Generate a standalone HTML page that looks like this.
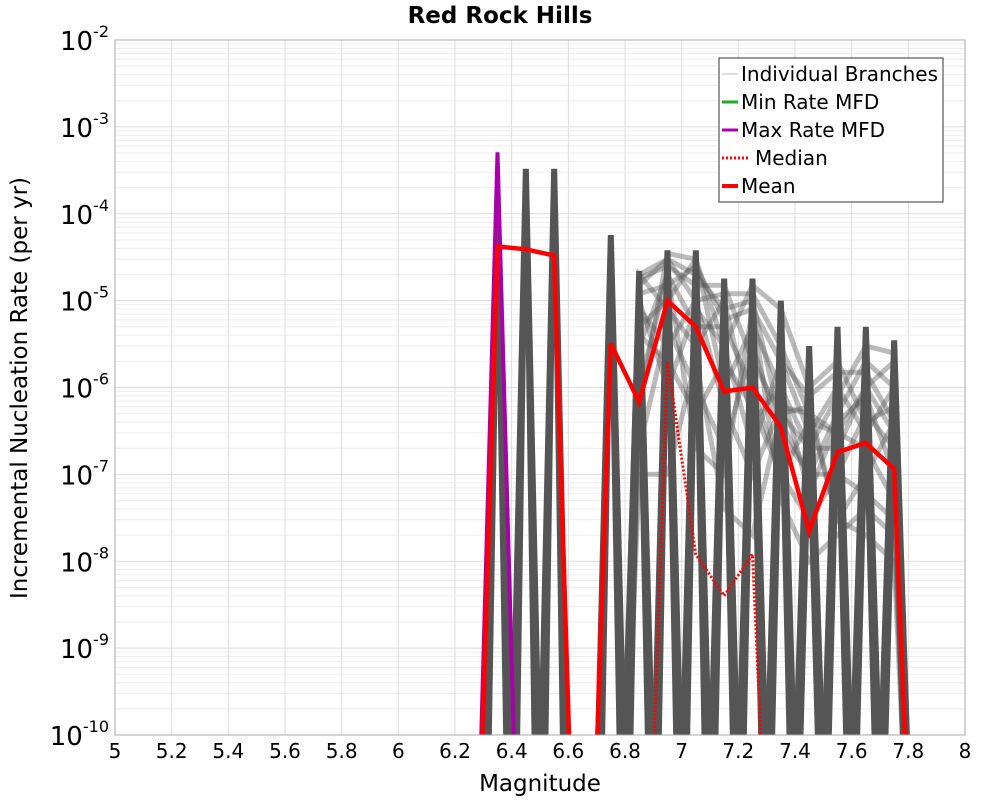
<!DOCTYPE html>
<html><head><meta charset="utf-8"><style>
html,body{margin:0;padding:0;background:#fff;overflow:hidden;width:1000px;height:800px}
svg{display:block}
svg text{font-family:"DejaVu Sans","Liberation Sans",sans-serif}
</style></head><body>
<svg id="chart" width="1000" height="800" viewBox="0 0 1000 800" xmlns="http://www.w3.org/2000/svg">
<rect width="1000" height="800" fill="#fff"/>
<text x="500" y="23" text-anchor="middle" font-size="23" font-weight="bold">Red Rock Hills</text>
<g id="grid"></g>
<g id="plot" clip-path="url(#clip)"></g>
<defs><clipPath id="clip"><rect x="115" y="40" width="850" height="695"/></clipPath></defs>
<rect x="115" y="40" width="850" height="695" fill="none" stroke="#aaa" stroke-width="1"/>
<g id="axes"></g>
<text x="540" y="791" text-anchor="middle" font-size="23">Magnitude</text>
<text transform="translate(27,388) rotate(-90)" text-anchor="middle" font-size="23">Incremental Nucleation Rate (per yr)</text>
<g>
<rect x="719" y="58" width="224" height="144" fill="#fff" stroke="#333" stroke-width="1"/>
<g><line x1="722" y1="74" x2="738" y2="74" stroke="#bbb" stroke-width="1"/><text x="741" y="81" font-size="20">Individual Branches</text></g>
<g><line x1="722" y1="102" x2="738" y2="102" stroke="#22aa22" stroke-width="3"/><text x="741" y="109" font-size="20">Min Rate MFD</text></g>
<g><line x1="722" y1="130" x2="738" y2="130" stroke="#aa00aa" stroke-width="3"/><text x="741" y="137" font-size="20">Max Rate MFD</text></g>
<g><line x1="722" y1="158" x2="750" y2="158" stroke="#f00" stroke-width="3" stroke-dasharray="2,2"/><text x="755" y="165" font-size="20">Median</text></g>
<g><line x1="722" y1="186" x2="738" y2="186" stroke="#f00" stroke-width="4"/><text x="741" y="193" font-size="20">Mean</text></g>
</g>
</svg>
<script>
const mags=[6.25,6.35,6.45,6.55,6.65,6.75,6.85,6.95,7.05,7.15,7.25,7.35,7.45,7.55,7.65,7.75,7.85];
const meanVals=[0,4.2e-5,3.9e-5,3.3e-5,0,3.2e-6,6.8e-7,1e-5,5e-6,9e-7,1e-6,3.5e-7,2.2e-8,1.8e-7,2.3e-7,1.15e-7,0];
const medianVals=[0,0,0,0,0,0,0,2e-6,1.2e-8,4e-9,1.2e-8,0,0,0,0,0,0];
const maxVals=[0,5.1e-4,0,0,0,0,0,0,0,0,0,0,0,0,0,0,0];
const minVals=[0,0,0,0,0,0,0,0,0,0,0,0,0,0,0,0,0];
const peakVals=[0,1e-4,3.3e-4,3.3e-4,0,5.7e-5,2.2e-5,3.8e-5,3.8e-5,1.8e-5,1.8e-5,1e-5,3e-6,5e-6,5e-6,3.5e-6,0];
const branchA=[0,0,0,0,0,0,1.5e-5,3e-5,2e-5,8e-6,1e-5,4e-7,1e-7,5e-7,2e-6,1e-6,0];
const branchB=[0,0,0,0,0,0,5e-6,1e-5,3e-5,1e-6,5e-6,1e-6,2e-7,2e-7,1e-6,3e-7,0];
const branchC=[0,0,0,0,0,0,1e-6,2e-5,5e-6,5e-6,1e-6,1e-7,4e-7,3e-7,2e-7,5e-8,0];
const branchD=[0,0,0,0,0,0,2e-7,5e-6,1e-6,2e-7,3e-6,3e-7,1e-7,1e-7,5e-7,2e-7,0];
const branchE=[0,0,0,0,0,0,1e-5,1e-6,8e-6,3e-6,2e-7,2e-6,3e-7,1e-6,3e-7,1e-6,0];
const branchF=[0,0,0,0,0,0,3e-6,2e-5,2e-7,1e-7,8e-6,5e-8,1e-8,2e-8,4e-8,2e-8,0];
const branchG=[0,0,0,0,0,0,8e-6,3e-6,1e-5,6e-7,1e-7,6e-7,5e-7,3e-8,1e-7,4e-7,0];
const branchH=[0,0,0,0,0,0,2e-5,8e-6,3e-6,1e-5,4e-7,1e-6,6e-8,4e-7,8e-7,1e-7,0];
const branchI=[0,0,0,0,0,0,1.8e-5,2.5e-5,1.5e-5,1.5e-5,2e-6,5e-7,2e-7,8e-7,3e-6,2.5e-6,0];
const branchJ=[0,0,0,0,0,0,6e-7,3.5e-5,3e-5,3e-6,1.5e-5,8e-6,1e-6,2e-6,4e-7,6e-7,0];
const branchK=[0,0,0,0,0,0,1e-7,1e-7,2e-6,4e-8,2e-8,5e-7,6e-7,3e-8,2e-8,1e-8,0];
const branchL=[0,0,0,0,0,0,1.2e-5,1.5e-5,2.5e-5,6e-6,8e-6,2e-6,8e-7,1.5e-6,1.5e-6,4e-7,0];
const branchM=[0,0,0,0,0,0,4e-6,2e-6,5e-7,2e-6,6e-7,1e-7,3e-8,1e-7,6e-8,3e-8,0];
const branchN=[0,0,0,0,0,0,2e-5,3e-5,1e-5,1.2e-5,1.2e-5,3e-6,5e-7,3e-7,1e-6,2e-6,0];
const xTicks=[5,5.2,5.4,5.6,5.8,6,6.2,6.4,6.6,6.8,7,7.2,7.4,7.6,7.8,8];
const yExps=[-2,-3,-4,-5,-6,-7,-8,-9,-10];
const NS="http://www.w3.org/2000/svg";
const X0=115,X1=965,Y0=40,Y1=735;
function sx(m){return X0+(m-5)/3*(X1-X0);}
function sy(v){const l=v>0?Math.log10(v):-15;return Y0+(-2-l)/8*(Y1-Y0);}
function mk(tag,parent,attrs){const e=document.createElementNS(NS,tag);for(const k in attrs)e.setAttribute(k,attrs[k]);parent.appendChild(e);return e;}
const grid=document.getElementById('grid'),plot=document.getElementById('plot'),axes=document.getElementById('axes');
for(let e=-10;e<-2;e++){for(let k=2;k<10;k++){const l=mk('line',grid,{x1:X0,x2:X1,y1:sy(k*Math.pow(10,e)),y2:sy(k*Math.pow(10,e)),stroke:'#eee','stroke-width':1});

}}
yExps.forEach(e=>{const y=sy(Math.pow(10,e));const l=mk('line',grid,{x1:X0,x2:X1,y1:y,y2:y,stroke:'#ddd','stroke-width':1});


const t=mk('text',axes,{x:X0-6,y:y+10,'text-anchor':'end','font-size':26});


t.innerHTML='10<tspan dy="-13" font-size="16">'+e+'</tspan>';});
xTicks.forEach(m=>{const x=sx(m);const l=mk('line',grid,{x1:x,x2:x,y1:Y0,y2:Y1,stroke:'#ddd','stroke-width':1});


const t=mk('text',axes,{x:x,y:758,'text-anchor':'middle','font-size':20});


t.textContent=String(m);});
function path(vals){return vals.map((v,i)=>(i?'L':'M')+sx(mags[i]).toFixed(1)+','+sy(v).toFixed(1)).join(' ');}
[branchA,branchB,branchC,branchD,branchE,branchF,branchG,branchH,branchI,branchJ,branchK,branchL,branchM,branchN].forEach(b=>{const p=mk('path',plot,{d:path(b),fill:'none',stroke:'#555','stroke-opacity':0.4,'stroke-width':5});

});
peakVals.forEach((v,i)=>{if(v<=0)return;const m=mags[i];const d='M'+sx(m-0.055)+','+Y1+' L'+(sx(m)-3)+','+sy(v)+' L'+(sx(m)+3)+','+sy(v)+' L'+sx(m+0.055)+','+Y1+' L'+(sx(m+0.02))+','+Y1+' L'+sx(m)+','+(sy(v)+180)+' L'+sx(m-0.02)+','+Y1+'Z';
const p=mk('path',plot,{d:d,fill:'#555'});

});
const mn=mk('path',plot,{d:path(minVals),fill:'none',stroke:'#22aa22','stroke-width':3});


const mx=mk('path',plot,{d:path(maxVals),fill:'none',stroke:'#aa00aa','stroke-width':4});


const md=mk('path',plot,{d:path(medianVals),fill:'none',stroke:'#f00','stroke-width':3,'stroke-dasharray':'2,2'});


const me=mk('path',plot,{d:path(meanVals),fill:'none',stroke:'#f00','stroke-width':4.5,'stroke-linejoin':'miter'});


</script>
</body></html>
